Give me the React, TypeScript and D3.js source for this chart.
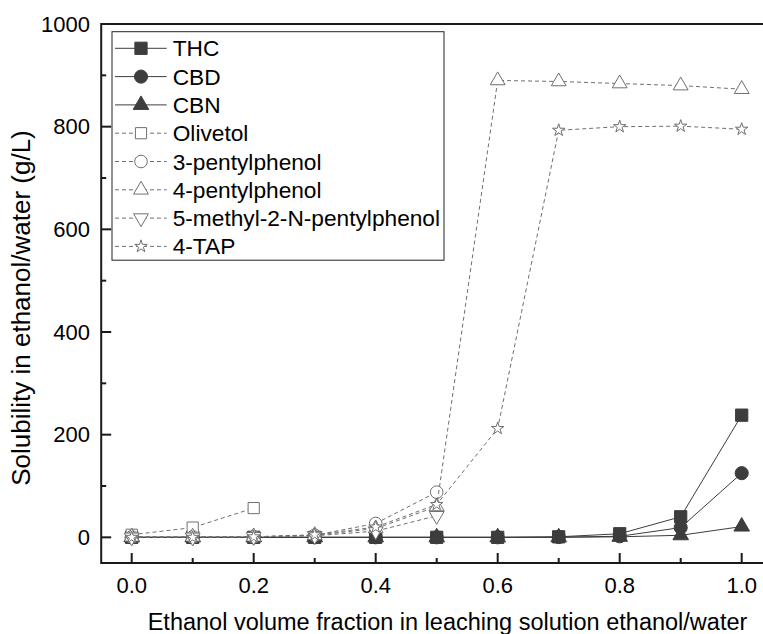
import React from "react";
import * as d3 from "d3";

const xFractions = [0, 0.1, 0.2, 0.3, 0.4, 0.5, 0.6, 0.7, 0.8, 0.9, 1.0];
const thcValues = [0, 0, 0, 0, 0, 0, 0, 1, 7, 40, 238];
const cbdValues = [0, 0, 0, 0, 0, 0, 0, 0.5, 2, 19, 125];
const cbnValues = [0, 0, 0, 0, 0, 0, 0, 0, 1, 4, 21];
const olivetolValues = [5, 19, 57];
const pentyl3Values = [1, 1, 1, 4, 27, 88];
const pentyl4Values = [1, 1, 1, 4, 17, 60, 890, 888, 884, 880, 873];
const methylValues = [0, 0, 1, 3, 12, 42];
const tapValues = [0, 0, 1, 5, 20, 64, 212, 793, 800, 801, 795];

const xTicks = [0, 0.2, 0.4, 0.6, 0.8, 1.0];
const xMinorTicks = [0.1, 0.3, 0.5, 0.7, 0.9];
const yTicks = [0, 200, 400, 600, 800, 1000];
const yMinorTicks = [100, 300, 500, 700, 900];

type Shape = "square" | "circle" | "triangle" | "down" | "star";
interface Series {
  name: string;
  values: number[];
  shape: Shape;
  filled: boolean;
}

const series: Series[] = [
  { name: "THC", values: thcValues, shape: "square", filled: true },
  { name: "CBD", values: cbdValues, shape: "circle", filled: true },
  { name: "CBN", values: cbnValues, shape: "triangle", filled: true },
  { name: "Olivetol", values: olivetolValues, shape: "square", filled: false },
  { name: "3-pentylphenol", values: pentyl3Values, shape: "circle", filled: false },
  { name: "4-pentylphenol", values: pentyl4Values, shape: "triangle", filled: false },
  { name: "5-methyl-2-N-pentylphenol", values: methylValues, shape: "down", filled: false },
  { name: "4-TAP", values: tapValues, shape: "star", filled: false },
];

const W = 763;
const H = 634;
const x = d3.scaleLinear().domain([-0.05, 1.05]).range([101.2, 772.2]);
const y = d3.scaleLinear().domain([-50, 1000]).range([563, 24]);

const DARK = "#3d3d3d";
const GRAY = "#6f6f6f";
const FONT = "Arial, 'Liberation Sans', sans-serif";

function symbolPath(shape: Shape, filled: boolean): string {
  const gen = d3.symbol();
  switch (shape) {
    case "square":
      return gen.type(d3.symbolSquare).size(filled ? 150 : 125)() as string;
    case "circle":
      return gen.type(d3.symbolCircle).size(filled ? 135 : 125)() as string;
    case "triangle":
    case "down":
      return gen.type(d3.symbolTriangle).size(filled ? 105 : 95)() as string;
    case "star":
      return gen.type(d3.symbolStar).size(48)() as string;
  }
}

function Marker({ s, cx, cy }: { s: Series; cx: number; cy: number }) {
  const d = symbolPath(s.shape, s.filled);
  const rot = s.shape === "down" ? " rotate(180)" : "";
  return (
    <path
      d={d}
      transform={`translate(${cx},${cy})${rot}`}
      fill={s.filled ? DARK : "#ffffff"}
      stroke={s.filled ? DARK : GRAY}
      strokeWidth={1}
    />
  );
}

export default function App() {
  const line = d3
    .line<[number, number]>()
    .x((d) => x(d[0]))
    .y((d) => y(d[1]));

  const legendX = 112;
  const legendY = 31.7;
  const legendW = 332;
  const legendH = 228.5;
  const rowH = 28.3;

  return (
    <svg
      width={W}
      height={H}
      style={{ position: "absolute", left: 0, top: 0, background: "#fff" }}
      fontFamily={FONT}
    >
      <defs>
        <clipPath id="plotclip">
          <rect x={x(-0.05)} y={y(1000)} width={x(1.05) - x(-0.05)} height={y(-50) - y(1000)} />
        </clipPath>
      </defs>
      {/* data */}
      <g clipPath="url(#plotclip)">
        {series.map((s) => {
          const pts: [number, number][] = s.values.map((v, i) => [xFractions[i], v]);
          return (
            <g key={s.name}>
              <path
                d={line(pts) as string}
                fill="none"
                stroke={s.filled ? DARK : GRAY}
                strokeWidth={1}
                strokeDasharray={s.filled ? undefined : "4,3"}
              />
              {pts.map((p, i) => (
                <Marker key={i} s={s} cx={x(p[0])} cy={y(p[1])} />
              ))}
            </g>
          );
        })}
      </g>

      {/* axes */}
      <g stroke="#1a1a1a" strokeWidth={2} fill="none">
        <line x1={x(-0.05)} x2={x(1.05)} y1={y(-50)} y2={y(-50)} />
        <line x1={x(-0.05)} x2={x(1.05)} y1={y(1000)} y2={y(1000)} />
        <line x1={x(-0.05)} x2={x(-0.05)} y1={y(-50) + 1} y2={y(1000) - 1} />
        {xTicks.map((t) => (
          <line key={"xt" + t} x1={x(t)} x2={x(t)} y1={y(-50)} y2={y(-50) - 10} />
        ))}
        {xMinorTicks.map((t) => (
          <line key={"xm" + t} x1={x(t)} x2={x(t)} y1={y(-50)} y2={y(-50) - 5} />
        ))}
        {yTicks.map((t) => (
          <line key={"yt" + t} x1={x(-0.05)} x2={x(-0.05) + 10} y1={y(t)} y2={y(t)} />
        ))}
        {yMinorTicks.map((t) => (
          <line key={"ym" + t} x1={x(-0.05)} x2={x(-0.05) + 5} y1={y(t)} y2={y(t)} />
        ))}
      </g>

      <g fontSize={22} fill="#000">
        {xTicks.map((t) => (
          <text key={"xl" + t} x={x(t)} y={593} textAnchor="middle">
            {d3.format(".1f")(t)}
          </text>
        ))}
        {yTicks.map((t) => (
          <text key={"yl" + t} x={90} y={y(t) + 7.8} textAnchor="end">
            {t}
          </text>
        ))}
      </g>

      <text x={447.5} y={630} textAnchor="middle" fontSize={23.5} fill="#000">
        Ethanol volume fraction in leaching solution ethanol/water
      </text>
      <text
        transform="translate(30,308) rotate(-90)"
        textAnchor="middle"
        fontSize={26}
        fill="#000"
      >
        Solubility in ethanol/water (g/L)
      </text>

      {/* legend */}
      <rect x={legendX} y={legendY} width={legendW} height={legendH} fill="#fff" stroke="#222" strokeWidth={1} />
      {series.map((s, i) => {
        const cy = legendY + 16.6 + i * rowH;
        return (
          <g key={"lg" + s.name}>
            <line
              x1={115}
              x2={166.7}
              y1={cy}
              y2={cy}
              stroke={s.filled ? DARK : GRAY}
              strokeWidth={1}
              strokeDasharray={s.filled ? undefined : "4,3"}
            />
            <Marker s={s} cx={141} cy={cy} />
            <text x={172.7} y={cy + 8} fontSize={22.7} fill="#000">
              {s.name}
            </text>
          </g>
        );
      })}
    </svg>
  );
}
